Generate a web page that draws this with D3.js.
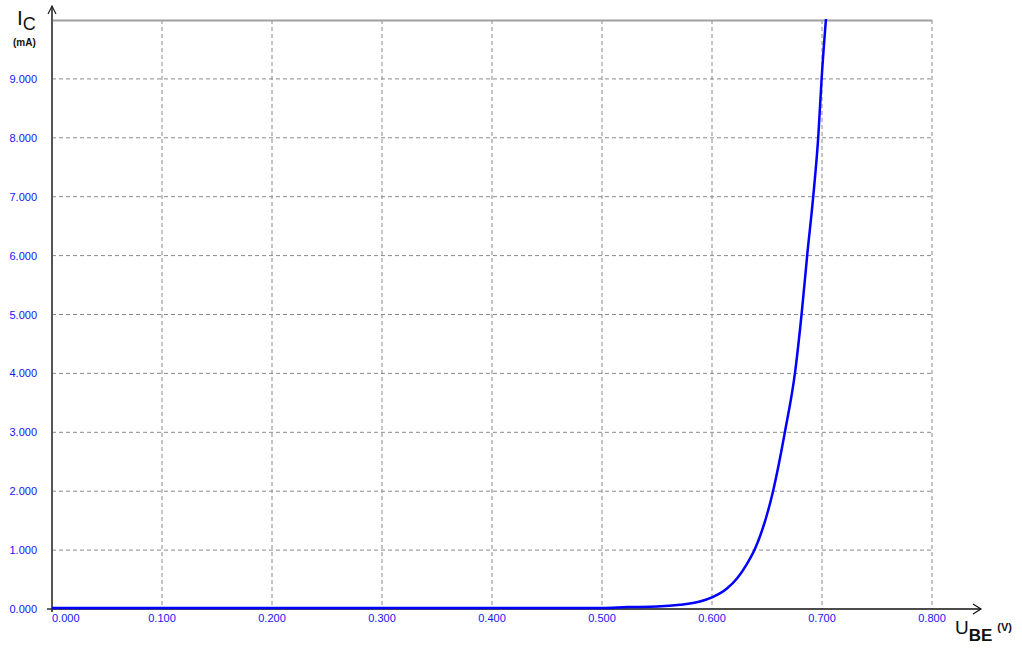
<!DOCTYPE html>
<html>
<head>
<meta charset="utf-8">
<script src="https://cdn.jsdelivr.net/npm/d3@7"></script>
<style>
  body { margin: 0; background: #fff; }
  text { font-family: Arial, "Liberation Sans", sans-serif; }
</style>
</head>
<body>
<svg id="chart" width="1022" height="653"></svg>
<script>
// transistor input characteristic
const ube = [0, 0.1, 0.2, 0.3, 0.4, 0.5, 0.523, 0.55, 0.571, 0.589, 0.6, 0.6136, 0.6227, 0.6318, 0.639, 0.6557, 0.6664, 0.6755, 0.6815, 0.6866, 0.6921, 0.6966, 0.6997, 0.7036];
const ic = [0, 0, 0, 0, 0, 0, 0.015, 0.025, 0.055, 0.11, 0.18, 0.33, 0.5, 0.75, 1.0, 2, 3, 4, 5, 6, 7, 8, 9, 10];
const xTicks = [0, 0.1, 0.2, 0.3, 0.4, 0.5, 0.6, 0.7, 0.8];
const yTicks = [0, 1, 2, 3, 4, 5, 6, 7, 8, 9];

const svg = d3.select("svg#chart");
const plot = { left: 52, right: 932, top: 20, bottom: 609 };

const x = d3.scaleLinear().domain([0, 0.8]).range([plot.left, plot.right]);
const y = d3.scaleLinear().domain([0, 10]).range([plot.bottom, plot.top]);

const fmt = d3.format(".3f");
const grid = "#8a8a8a";

// dashed grid
svg.append("g")
  .selectAll("line")
  .data(xTicks.slice(1))
  .join("line")
  .attr("x1", (d) => x(d)).attr("x2", (d) => x(d))
  .attr("y1", plot.top).attr("y2", plot.bottom)
  .attr("stroke", grid).attr("stroke-dasharray", "4,3");

svg.append("g")
  .selectAll("line")
  .data(yTicks.slice(1))
  .join("line")
  .attr("x1", plot.left).attr("x2", plot.right)
  .attr("y1", (d) => y(d)).attr("y2", (d) => y(d))
  .attr("stroke", grid).attr("stroke-dasharray", "4,3");

// top border
svg.append("line")
  .attr("x1", plot.left).attr("x2", plot.right)
  .attr("y1", plot.top + 0.5).attr("y2", plot.top + 0.5)
  .attr("stroke", "#a0a0a0").attr("stroke-width", 2);

// tick labels
svg.append("g")
  .selectAll("text")
  .data(yTicks)
  .join("text")
  .attr("x", 37)
  .attr("y", (d) => y(d) + 4)
  .attr("text-anchor", "end")
  .attr("font-size", 11)
  .attr("fill", "#1414f5")
  .text((d) => fmt(d));

svg.append("g")
  .selectAll("text")
  .data(xTicks)
  .join("text")
  .attr("x", (d) => (d == 0 ? plot.left : x(d)))
  .attr("y", 622)
  .attr("text-anchor", (d) => (d == 0 ? "start" : "middle"))
  .attr("font-size", 11)
  .attr("fill", "#1414f5")
  .text((d) => fmt(d));

// axes
svg.append("line")
  .attr("x1", plot.left).attr("x2", plot.left)
  .attr("y1", 6).attr("y2", plot.bottom + 3)
  .attr("stroke", "#555").attr("stroke-width", 2);
svg.append("path")
  .attr("d", `M${plot.left - 4},14 L${plot.left},6 L${plot.left + 4},14`)
  .attr("fill", "none").attr("stroke", "#222").attr("stroke-width", 1.2);
svg.append("line")
  .attr("x1", plot.left - 5).attr("x2", plot.left)
  .attr("y1", plot.bottom).attr("y2", plot.bottom)
  .attr("stroke", "#333").attr("stroke-width", 1.5);

svg.append("line")
  .attr("x1", plot.left).attr("x2", 981)
  .attr("y1", plot.bottom).attr("y2", plot.bottom)
  .attr("stroke", "#111").attr("stroke-width", 1.5);
svg.append("path")
  .attr("d", "M973,604 L981,609 L973,614")
  .attr("fill", "none").attr("stroke", "#111").attr("stroke-width", 1.2);

// curve
const pts = ube.map((v, i) => [v, ic[i]]);
svg.append("clipPath").attr("id", "clip")
  .append("rect")
  .attr("x", plot.left).attr("y", plot.top)
  .attr("width", plot.right - plot.left).attr("height", plot.bottom - plot.top + 3);
svg.append("path")
  .datum(pts)
  .attr("clip-path", "url(#clip)")
  .attr("transform", "translate(0,-1)")
  .attr("d", d3.line().x((d) => x(d[0])).y((d) => y(d[1])).curve(d3.curveMonotoneX))
  .attr("fill", "none")
  .attr("stroke", "#0000ff")
  .attr("stroke-width", 2.5);

// axis titles
const yt = svg.append("text").attr("x", 17).attr("y", 25).attr("fill", "#111");
yt.append("tspan").attr("font-size", 21).text("I");
yt.append("tspan").attr("font-size", 18).attr("dy", 5).text("C");
svg.append("text").attr("x", 13).attr("y", 46)
  .attr("font-size", 10).attr("font-weight", "bold").attr("fill", "#111").text("(mA)");

const xt = svg.append("text").attr("x", 955).attr("y", 634).attr("fill", "#111");
xt.append("tspan").attr("font-size", 19).text("U");
xt.append("tspan").attr("font-size", 17).attr("font-weight", "bold").attr("dy", 7).text("BE");
xt.append("tspan").attr("font-size", 11).attr("font-weight", "bold").attr("dx", 5).attr("dy", -10).text("(V)");
</script>
</body>
</html>
